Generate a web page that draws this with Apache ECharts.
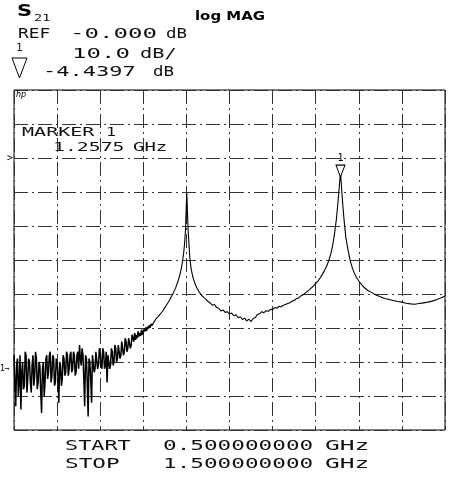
<!DOCTYPE html>
<html>
<head>
<meta charset="utf-8">
<script src="https://cdn.jsdelivr.net/npm/echarts@6/dist/echarts.min.js"></script>
<style>
  html, body { margin: 0; background: #fff; }
  #chart { width: 452px; height: 480px; }
</style>
</head>
<body>
<div id="chart"></div>
<script>
// S21 sweep, [GHz, dB]
const noiseFloor = [
  [0.500,-58],[0.502,-66],[0.504,-73],[0.506,-61],[0.508,-59],[0.510,-70],[0.512,-66],[0.514,-58],[0.516,-74],[0.518,-63],
  [0.520,-60],[0.522,-68],[0.524,-67],[0.526,-57],[0.528,-58],[0.530,-69],[0.532,-65],[0.534,-59],[0.536,-60],[0.538,-66],
  [0.540,-69],[0.542,-61],[0.544,-58],[0.546,-67],[0.548,-64],[0.550,-57],[0.552,-59],[0.554,-68],[0.556,-66],[0.558,-60],
  [0.560,-61],[0.562,-69],[0.564,-75],[0.566,-62],[0.568,-60],[0.570,-70],[0.572,-66],[0.574,-59],[0.576,-58],[0.578,-65],
  [0.580,-63],[0.582,-58],[0.584,-57],[0.586,-66],[0.588,-64],[0.590,-58],[0.592,-59],[0.594,-67],[0.596,-66],[0.598,-59],
  [0.600,-60],[0.602,-64],[0.604,-72],[0.606,-60],[0.608,-61],[0.610,-67],[0.612,-65],[0.614,-58],[0.616,-59],[0.618,-64],
  [0.620,-63],[0.622,-57],[0.624,-58],[0.626,-64],[0.628,-62],[0.630,-58],[0.632,-57],[0.634,-63],[0.636,-62],[0.638,-57],
  [0.640,-58],[0.642,-64],[0.644,-63],[0.646,-58],[0.648,-57],[0.650,-62],[0.652,-55],[0.654,-59],[0.656,-61],[0.658,-56],
  [0.660,-58],[0.662,-65],[0.664,-73],[0.666,-58],[0.668,-59],[0.670,-66],[0.672,-76],[0.674,-59],[0.676,-60],[0.678,-65],
  [0.680,-72],[0.682,-58],[0.684,-58],[0.686,-63],[0.688,-62],[0.690,-57],[0.692,-57],[0.694,-62],[0.696,-61],[0.698,-56],
  [0.700,-57],[0.702,-61],[0.704,-62],[0.706,-56],[0.708,-57],[0.710,-62],[0.712,-61],[0.714,-57],[0.716,-66],[0.718,-58],
  [0.720,-58],[0.722,-62],[0.724,-61],[0.726,-56],[0.728,-57],[0.730,-61],[0.732,-60],[0.734,-55],[0.736,-56],[0.738,-60],
  [0.740,-59],[0.742,-55],[0.744,-55],[0.746,-59],[0.748,-58],[0.750,-54],[0.752,-54],[0.754,-58],[0.756,-57],[0.758,-53],
  [0.760,-54],[0.762,-57],[0.764,-56],[0.766,-53],[0.768,-53],[0.770,-56],[0.772,-55],[0.774,-52],[0.776,-52],[0.778,-54],
  [0.780,-51.5],[0.782,-53.5],[0.784,-52],[0.786,-53],[0.788,-51],[0.790,-52.5],[0.792,-51.5],[0.794,-52.3],[0.796,-50.5],
  [0.798,-52],[0.800,-51.2],[0.802,-50.2],[0.804,-51],[0.806,-49.8],[0.808,-50.8],[0.810,-49.6],[0.812,-50.2],[0.814,-49.2],
  [0.816,-49.9],[0.818,-48.8],[0.820,-49.3]
]
const peak1 = [
  [0.820,-49.3],[0.825,-48.2],[0.830,-47.2],[0.835,-46.6],[0.840,-45.8],[0.845,-45],[0.850,-44],
  [0.855,-43],[0.860,-42],[0.865,-40.8],[0.870,-39.6],[0.875,-38.2],[0.880,-36.4],[0.884,-34.8],[0.888,-32.6],[0.891,-30.4],
  [0.894,-27.5],[0.896,-24.8],[0.898,-21],[0.899,-17],[0.900,-13],[0.901,-10.3],[0.902,-14],[0.903,-18],[0.904,-21],
  [0.906,-25.5],[0.908,-29.5],[0.911,-32.6],[0.915,-35],[0.920,-37],[0.925,-38.4],[0.930,-39.5],[0.935,-40.3],
  [0.940,-41],[0.945,-41.5],[0.950,-42.2]
]
const valley = [
  [0.955,-42.6],[0.960,-43.3],[0.965,-43.1],[0.970,-44.0],[0.975,-44.2],[0.980,-45.0],[0.985,-44.7],[0.990,-45.4],
  [0.995,-45.2],[1.000,-45.9],[1.005,-45.6],[1.010,-46.4],[1.015,-46.1],[1.020,-47.0],[1.025,-46.7],[1.030,-47.5],
  [1.035,-47.1],[1.040,-47.9],[1.045,-47.4],[1.050,-48.1],[1.055,-47.2],[1.060,-46.9],[1.065,-46.0],[1.070,-45.8],
  [1.075,-45.2],[1.080,-45.5],[1.085,-44.9],[1.090,-45.1],[1.095,-44.5],[1.100,-44.6],[1.105,-44.0],[1.110,-44.2],
  [1.115,-43.6],[1.120,-43.8],[1.125,-43.3],[1.130,-43.1],[1.135,-42.8],[1.140,-42.6],[1.145,-42.1],[1.150,-41.9],
  [1.155,-41.4],[1.160,-41.2],[1.165,-40.6],[1.170,-40.3],[1.175,-39.8],[1.180,-39.3],[1.185,-38.8],[1.190,-38.2],
  [1.195,-37.6],[1.200,-36.9],[1.205,-36.2],[1.210,-35.3],[1.215,-34.3],[1.220,-33.2],[1.225,-31.9],[1.230,-30.3],
  [1.235,-28.2]
]
const peak2 = [
  [1.240,-25.3],[1.244,-22],[1.248,-18],[1.251,-14],[1.254,-9.5],[1.256,-6.5],[1.2575,-4.44],[1.259,-7],[1.261,-10.5],
  [1.263,-14],[1.266,-18.5],[1.270,-23.5],[1.275,-27],[1.280,-30.2],[1.285,-32.3],[1.290,-34],[1.295,-35.2],[1.300,-36.2]
]
const tail = [
  [1.310,-37.8],[1.320,-38.9],[1.330,-39.6],[1.340,-40.3],[1.350,-40.8],[1.360,-41.3],[1.370,-41.6],[1.380,-41.9],
  [1.390,-42.2],[1.400,-42.4],[1.410,-42.7],[1.420,-42.9],[1.430,-43.0],[1.440,-42.8],[1.450,-42.6],[1.460,-42.4],
  [1.470,-42.1],[1.480,-41.7],[1.490,-41.2],[1.500,-40.6]
]

const xRange = [0.5, 1.5]      // START / STOP, GHz
const yRange = [-80, 20]       // REF 0 dB two divisions below top, 10 dB/div
const marker1 = [1.2575, -4.4397]
const refLevel = 0
const chanRef = -62

const mono = "'DejaVu Sans Mono', monospace"
const trace = [].concat(peak1, valley, peak2, tail)
const gridDash = [14, 4, 2, 4]

const chart = echarts.init(document.getElementById('chart'), null, { renderer: 'canvas' })

// text token: x, top, string, size, horizontal stretch
function txt(x, y, s, size, sx) {
  return {
    type: 'text', x: x, y: y, scaleX: sx || 1,
    style: {
      text: s, fill: '#111', fontSize: size, fontFamily: mono,
      verticalAlign: 'top', align: 'left'
    }
  }
}

chart.setOption({
  backgroundColor: '#fff',
  animation: false,
  grid: {
    left: 14, top: 90, width: 431, height: 340,
    show: true, borderColor: '#000', borderWidth: 1, backgroundColor: 'transparent'
  },
  xAxis: {
    type: 'value', min: xRange[0], max: xRange[1], interval: 0.1,
    axisLine: { show: false }, axisTick: { show: false }, axisLabel: { show: false },
    splitLine: { lineStyle: { color: '#333', width: 1, type: gridDash } }
  },
  yAxis: {
    type: 'value', min: yRange[0], max: yRange[1], interval: 10,
    axisLine: { show: false }, axisTick: { show: false }, axisLabel: { show: false },
    splitLine: { lineStyle: { color: '#333', width: 1, type: gridDash } }
  },
  series: [
    {
      // noisy low end of the sweep, drawn heavier like the plotter pen
      name: 'S21 floor', type: 'line', data: noiseFloor,
      showSymbol: false, lineStyle: { color: '#000', width: 1.5 }
    },
    {
      name: 'S21', type: 'line', data: trace,
      showSymbol: false, smooth: false,
      lineStyle: { color: '#000', width: 1.1 },
      markPoint: {
        symbol: 'path://M0,0 L10,0 L5,13 Z',
        symbolSize: [9, 12], symbolOffset: [0, -2],
        itemStyle: { color: '#fff', borderColor: '#000', borderWidth: 1 },
        label: { show: true, position: 'top', distance: 1, formatter: '1', color: '#000', fontSize: 10, fontFamily: mono },
        data: [{ coord: marker1 }]
      }
    }
  ]
})

// reference-position arrows at the left edge
const yRef = chart.convertToPixel({ yAxisIndex: 0 }, refLevel)
const yChan = chart.convertToPixel({ yAxisIndex: 0 }, chanRef)

chart.setOption({
  graphic: [
    { type: 'text', x: 17, y: 5, scaleX: 1.4,
      style: { text: 'S', fill: '#000', font: "bold 15px 'DejaVu Sans'", verticalAlign: 'top' } },
    txt(34, 14, '21', 9, 1.5),
    { type: 'text', x: 195, y: 10, scaleX: 1.15,
      style: { text: 'log MAG', fill: '#000', font: "bold 13px 'DejaVu Sans'", verticalAlign: 'top' } },
    txt(18, 27, 'REF', 14, 1.27),
    txt(70, 27, '-0.000', 14, 1.72),
    txt(166, 27, 'dB', 14, 1.25),
    txt(16, 43, '1', 11, 1),
    { type: 'polygon', shape: { points: [[12, 58], [27, 58], [19.5, 78]] },
      style: { fill: 'none', stroke: '#000', lineWidth: 1 } },
    txt(72, 47, '10.0', 14, 1.72),
    txt(140, 47, 'dB/', 14, 1.45),
    txt(43, 65, '-4.4397', 14, 1.57),
    txt(153, 65, 'dB', 14, 1.25),
    { type: 'text', x: 16, y: 91, style: { text: 'hp', fill: '#000', font: "italic 8px 'DejaVu Sans'", verticalAlign: 'top' } },
    txt(22, 127, 'MARKER', 12, 1.67),
    txt(106, 127, '1', 12, 1.4),
    txt(53, 142, '1.2575', 12, 1.65),
    txt(133, 142, 'GHz', 12, 1.58),
    txt(65, 439, 'START', 14, 1.56),
    txt(163, 439, '0.500000000', 14, 1.62),
    txt(325, 439, 'GHz', 14, 1.75),
    txt(65, 457, 'STOP', 14, 1.62),
    txt(163, 457, '1.500000000', 14, 1.62),
    txt(325, 457, 'GHz', 14, 1.75),
    { type: 'text', x: 7, y: yRef, style: { text: '>', fill: '#000', fontSize: 10, fontFamily: mono, verticalAlign: 'middle' } },
    { type: 'text', x: 0, y: yChan, style: { text: '1→', fill: '#000', fontSize: 8, fontFamily: mono, verticalAlign: 'middle' } }
  ]
})
</script>
</body>
</html>
